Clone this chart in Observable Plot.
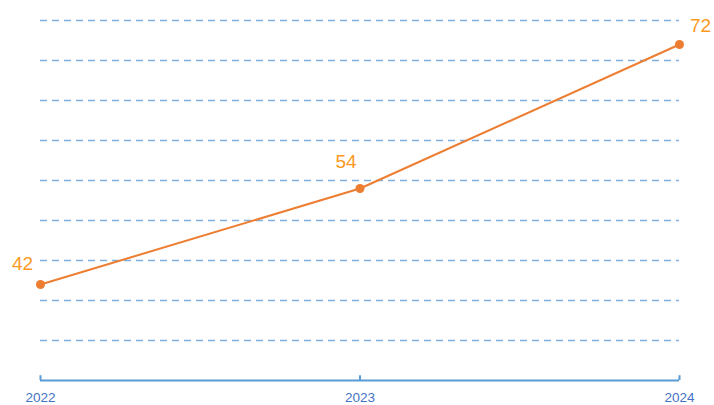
<!DOCTYPE html>
<html>
<head>
<meta charset="utf-8">
<script src="https://cdn.jsdelivr.net/npm/d3@7"></script>
<script src="https://cdn.jsdelivr.net/npm/@observablehq/plot@0.6"></script>
<style>
  html, body { margin: 0; padding: 0; background: #fff; }
  #chart svg { display: block; }
</style>
</head>
<body>
<div id="chart"></div>
<script>
const years = [2022, 2023, 2024];
const values = [42, 54, 72];
const gridValues = [35, 40, 45, 50, 55, 60, 65, 70, 75];

const data = years.map((y, i) => ({year: y, value: values[i]}));
const lineColor = "#ed7d31";
const labelColor = "#fb9a1e";
const gridColor = "#7fb0e0";
const axisColor = "#5b9bd5";
const font = "Liberation Sans, Open Sans, sans-serif";

const labelMark = (i, dx, dy, anchor) => Plot.text([data[i]], {
  x: "year", y: "value", text: d => String(d.value),
  dx, dy, textAnchor: anchor, fill: labelColor, fontSize: 19, fontFamily: font
});

const chart = Plot.plot({
  width: 714,
  height: 405,
  marginTop: 20,
  marginBottom: 25,
  marginLeft: 40,
  marginRight: 35,
  x: {type: "linear", domain: [2022, 2024], axis: null},
  y: {domain: [30, 75], axis: null},
  style: {fontFamily: font, background: "#fff"},
  marks: [
    Plot.ruleY(gridValues, {stroke: gridColor, strokeWidth: 1.5, strokeDasharray: "7,5"}),
    Plot.ruleY([30], {stroke: axisColor, strokeWidth: 2}),
    Plot.ruleX(years, {x: d => d, y1: 30, y2: 30.6, stroke: axisColor, strokeWidth: 2}),
    Plot.axisX({ticks: years, tickFormat: d => String(d), tickSize: 0, tickPadding: 12,
      fill: "#4472c4", fontSize: 13.5, fontFamily: font, anchor: "bottom", label: null}),
    Plot.line(data, {x: "year", y: "value", stroke: lineColor, strokeWidth: 2}),
    Plot.dot(data, {x: "year", y: "value", fill: lineColor, r: 4.5}),
    labelMark(0, -18, -21, "middle"),
    labelMark(1, -14, -27, "middle"),
    labelMark(2, 21, -19, "middle")
  ]
});
document.getElementById("chart").appendChild(chart);
</script>
</body>
</html>
